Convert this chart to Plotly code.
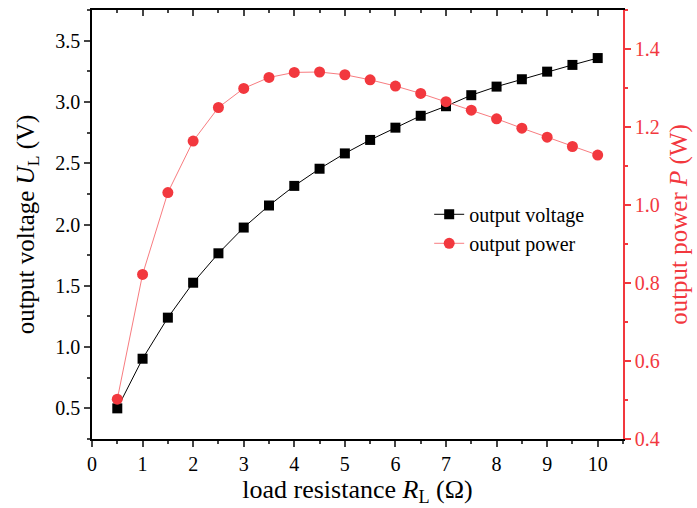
import plotly.graph_objects as go

R = [0.5, 1, 1.5, 2, 2.5, 3, 3.5, 4, 4.5, 5, 5.5, 6, 6.5, 7, 7.5, 8, 8.5, 9, 9.5, 10]
voltage = [0.50, 0.905, 1.24, 1.525, 1.765, 1.975, 2.155, 2.315, 2.455, 2.58, 2.69, 2.79, 2.887, 2.965,
           3.055, 3.125, 3.185, 3.247, 3.302, 3.358]
power = [0.502, 0.822, 1.032, 1.164, 1.25, 1.299, 1.327, 1.340, 1.341, 1.334, 1.321, 1.305, 1.286, 1.265,
         1.243, 1.221, 1.197, 1.174, 1.150, 1.128]

RED = "#F2383E"
FONT = "Liberation Serif"

fig = go.Figure()
fig.add_trace(go.Scatter(x=R, y=voltage, name="output voltage", mode="lines+markers",
                         line=dict(color="black", width=1),
                         marker=dict(symbol="square", size=10, color="black"),
                         xaxis="x", yaxis="y"))
fig.add_trace(go.Scatter(x=R, y=power, name="output power", mode="lines+markers",
                         line=dict(color="#F87C80", width=1),
                         marker=dict(symbol="circle", size=11, color=RED),
                         xaxis="x", yaxis="y2"))
# helper trace for the top axis (invisible)
fig.add_trace(go.Scatter(x=R, y=voltage, mode="markers", marker=dict(opacity=0),
                         showlegend=False, hoverinfo="skip", xaxis="x2", yaxis="y"))

fig.update_layout(
    width=697, height=508,
    margin=dict(l=92, r=74, t=10, b=69),
    plot_bgcolor="white", paper_bgcolor="white",
    font=dict(family=FONT, size=20, color="black"),
    showlegend=True,
    legend=dict(x=0.635, y=0.49, xanchor="left", yanchor="middle",
                bgcolor="rgba(0,0,0,0)", font=dict(size=20, family=FONT),
                tracegroupgap=0, itemwidth=30),
    xaxis=dict(range=[0, 10.5], tick0=0, dtick=1, ticks="outside", ticklen=6, tickwidth=1.5,
               showline=True, linecolor="black", linewidth=1.5, showgrid=False, zeroline=False,
               minor=dict(dtick=0.5, ticklen=3.5, tickwidth=1.5, ticks="outside", showgrid=False),
               tickfont=dict(size=20),
               title=dict(text="load resistance <i>R</i><sub>L</sub> (Ω)", font=dict(size=26), standoff=5)),
    xaxis2=dict(overlaying="x", side="top", anchor="y", range=[0, 10.5], tick0=0, dtick=1,
                ticks="inside", ticklen=6, tickwidth=1.5, showticklabels=False,
                showline=True, linecolor="black", linewidth=1.5, showgrid=False, zeroline=False,
                minor=dict(dtick=0.5, ticklen=3.5, tickwidth=1.5, ticks="inside", showgrid=False)),
    yaxis=dict(range=[0.25, 3.75], tick0=0.5, dtick=0.5, tickformat=".1f", ticks="outside",
               ticklen=6, tickwidth=1.5, showline=True, linecolor="black", linewidth=1.5,
               showgrid=False, zeroline=False,
               minor=dict(dtick=0.25, tick0=0.25, ticklen=3.5, tickwidth=1.5, ticks="outside", showgrid=False),
               tickfont=dict(size=20),
               title=dict(text="output voltage <i>U</i><sub>L</sub> (V)", font=dict(size=25), standoff=14)),
    yaxis2=dict(overlaying="y", side="right", anchor="x", range=[0.4, 1.5], tick0=0.4, dtick=0.2,
                tickformat=".1f", ticks="outside", ticklen=6, tickwidth=1.5,
                showline=True, linecolor=RED, linewidth=1.5, tickcolor=RED, showgrid=False, zeroline=False,
                minor=dict(dtick=0.1, tick0=0.4, ticklen=3.5, tickwidth=1.5, ticks="outside",
                           tickcolor=RED, showgrid=False),
                tickfont=dict(size=20, color=RED),
                title=dict(text="output power <i>P</i> (W)", font=dict(size=25, color=RED), standoff=11)),
)

fig.write_html("out.html")
